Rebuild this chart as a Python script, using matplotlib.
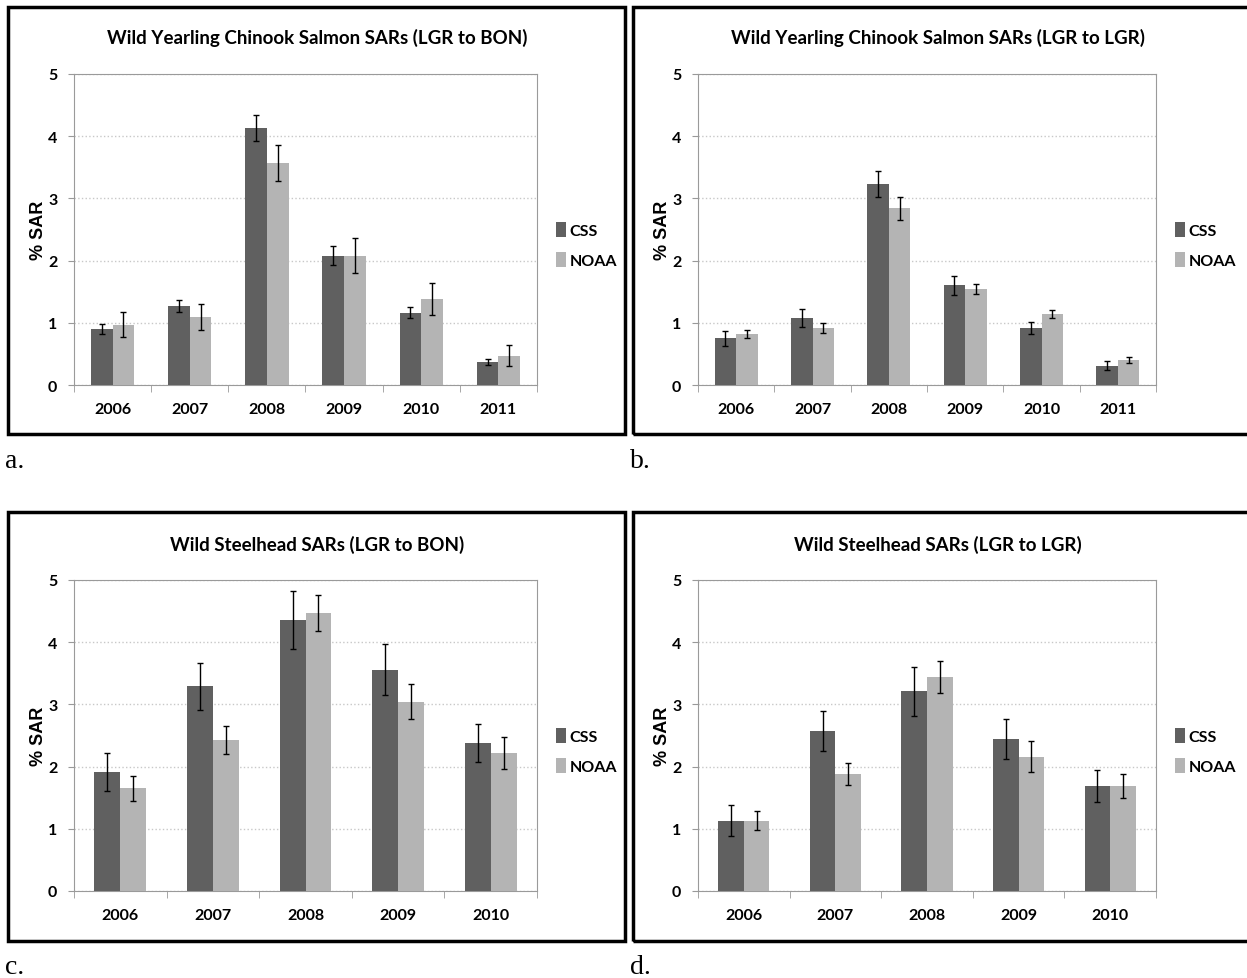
import numpy as np
import matplotlib.pyplot as plt
from matplotlib.patches import Rectangle

# data (values in % SAR, error = half CI width)
years_chinook = ['2006', '2007', '2008', '2009', '2010', '2011']
years_steelhead = ['2006', '2007', '2008', '2009', '2010']

# a. Wild Yearling Chinook, LGR to BON
css_a = [0.90, 1.27, 4.13, 2.08, 1.16, 0.37]
css_a_err = [0.08, 0.10, 0.21, 0.15, 0.09, 0.05]
noaa_a = [0.97, 1.10, 3.57, 2.08, 1.38, 0.47]
noaa_a_err = [0.20, 0.21, 0.29, 0.28, 0.26, 0.17]

# b. Wild Yearling Chinook, LGR to LGR
css_b = [0.75, 1.08, 3.23, 1.60, 0.92, 0.31]
css_b_err = [0.12, 0.14, 0.21, 0.15, 0.10, 0.07]
noaa_b = [0.82, 0.91, 2.84, 1.54, 1.14, 0.40]
noaa_b_err = [0.07, 0.08, 0.19, 0.08, 0.07, 0.045]

# c. Wild Steelhead, LGR to BON
css_c = [1.91, 3.29, 4.36, 3.56, 2.38]
css_c_err = [0.31, 0.38, 0.47, 0.41, 0.30]
noaa_c = [1.65, 2.43, 4.47, 3.04, 2.22]
noaa_c_err = [0.20, 0.22, 0.29, 0.28, 0.26]

# d. Wild Steelhead, LGR to LGR
css_d = [1.13, 2.57, 3.21, 2.45, 1.69]
css_d_err = [0.25, 0.32, 0.39, 0.32, 0.26]
noaa_d = [1.13, 1.88, 3.44, 2.16, 1.69]
noaa_d_err = [0.15, 0.18, 0.26, 0.25, 0.19]

plt.rcParams['font.family'] = ['Lato', 'DejaVu Sans']
plt.rcParams['font.weight'] = 'bold'

W, H = 1247, 979
fig = plt.figure(figsize=(W / 100, H / 100), dpi=100)


def px_rect(l, t, r, b):
    return [l / W, 1 - b / H, (r - l) / W, (b - t) / H]


def panel(box, axbox, title, title_x, title_y, years, css, css_err, noaa, noaa_err, letter):
    fl, ft, fr, fb = box
    fig.patches.append(Rectangle((fl / W, 1 - fb / H), (fr - fl) / W, (fb - ft) / H,
                                 transform=fig.transFigure, fill=False,
                                 edgecolor='black', linewidth=2.5))
    ax = fig.add_axes(px_rect(*axbox))
    x = np.arange(len(years))
    w = 0.28
    ekw = dict(elinewidth=1, ecolor='black', capthick=1)
    ax.bar(x - w / 2, css, w, yerr=css_err, color='#606060', capsize=2.5,
           error_kw=ekw, label='CSS', zorder=3)
    ax.bar(x + w / 2, noaa, w, yerr=noaa_err, color='#b4b4b4', capsize=2.5,
           error_kw=ekw, label='NOAA', zorder=3)
    ax.set_xlim(-0.5, len(years) - 0.5)
    ax.set_ylim(0, 5)
    ax.set_yticks(range(6))
    ax.yaxis.grid(True, color='#c8c8c8', linestyle=':', linewidth=1)
    ax.set_axisbelow(True)
    ax.set_xticks(x)
    ax.set_xticklabels(years)
    ax.set_xticks(np.arange(len(years) + 1) - 0.5, minor=True)
    ax.tick_params(axis='x', which='major', length=0, pad=12, labelsize=11.5)
    ax.tick_params(axis='x', which='minor', length=5, color='#999999')
    ax.tick_params(axis='y', length=4, color='#999999', pad=8, labelsize=11.5)
    for s in ax.spines.values():
        s.set_color('#9a9a9a')
    ax.set_ylabel('% SAR', family=['Liberation Sans', 'DejaVu Sans'],
                  fontweight='bold', fontsize=13)
    ax.yaxis.set_label_coords(-0.058, 0.5)
    ax.legend(loc='center left', bbox_to_anchor=(1.01, 0.45), frameon=False,
              handlelength=0.6, handleheight=1.0, handletextpad=0.25,
              labelspacing=0.9, fontsize=11.5)
    fig.text(title_x / W, 1 - title_y / H, title, ha='center', va='center',
             fontsize=13.5, fontweight='bold')
    fig.text((fl - 3) / W, 1 - (fb + 26) / H, letter, ha='left', va='center',
             family=['Liberation Serif', 'DejaVu Serif'], fontweight='normal',
             fontsize=20)
    return ax


panel((8, 8, 625, 435), (74, 75, 537, 386),
      'Wild Yearling Chinook Salmon SARs (LGR to BON)', 317, 38,
      years_chinook, css_a, css_a_err, noaa_a, noaa_a_err, 'a.')
panel((633, 8, 1252, 435), (698, 75, 1156, 386),
      'Wild Yearling Chinook Salmon SARs (LGR to LGR)', 938, 38,
      years_chinook, css_b, css_b_err, noaa_b, noaa_b_err, 'b.')
panel((8, 513, 625, 942), (74, 581, 537, 892),
      'Wild Steelhead SARs (LGR to BON)', 317, 545,
      years_steelhead, css_c, css_c_err, noaa_c, noaa_c_err, 'c.')
panel((633, 513, 1252, 942), (698, 581, 1156, 892),
      'Wild Steelhead SARs (LGR to LGR)', 938, 545,
      years_steelhead, css_d, css_d_err, noaa_d, noaa_d_err, 'd.')

fig.savefig('out.png', dpi=100)
